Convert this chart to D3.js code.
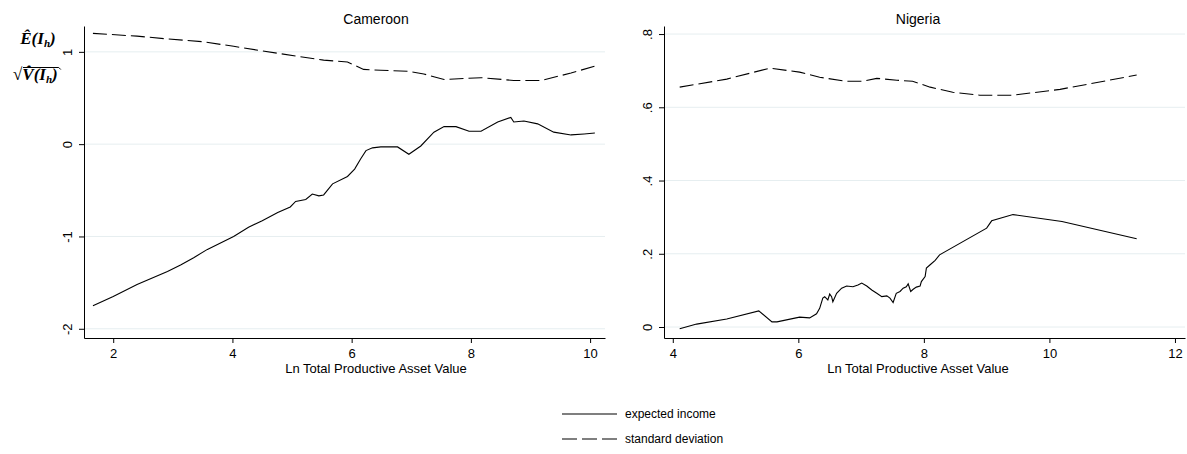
<!DOCTYPE html>
<html lang="en">
<head>
<meta charset="UTF-8">
<title>Expected income and standard deviation</title>
<script src="https://d3js.org/d3.v7.min.js"></script>
<style>
  body { margin: 0; background: #fff; }
  svg { font-family: "Liberation Sans", Arial, sans-serif; }
  .grid line { stroke: #e6eef0; stroke-width: 1; }
  .axis path, .axis line { stroke: #000; stroke-width: 1; }
  .axis text { font-size: 13px; fill: #000; }
</style>
</head>
<body>
<svg width="1187" height="454"></svg>
<script>
// Cameroon
var camIncX = [1.66, 2.0, 2.4, 2.91, 3.13, 3.35, 3.58, 4.02, 4.27, 4.5, 4.76, 4.97, 5.06, 5.23, 5.34, 5.45, 5.53, 5.68, 5.93, 6.05, 6.15, 6.24, 6.35, 6.49, 6.77, 6.96, 7.16, 7.38, 7.55, 7.75, 7.97, 8.17, 8.45, 8.67, 8.72, 8.89, 9.12, 9.39, 9.68, 9.9, 10.08];
var camIncY = [-1.75, -1.65, -1.52, -1.38, -1.31, -1.23, -1.14, -1.0, -0.90, -0.83, -0.74, -0.68, -0.62, -0.60, -0.54, -0.56, -0.55, -0.43, -0.35, -0.27, -0.16, -0.07, -0.04, -0.03, -0.03, -0.11, -0.02, 0.13, 0.19, 0.19, 0.14, 0.14, 0.24, 0.29, 0.24, 0.25, 0.22, 0.13, 0.10, 0.11, 0.12];
var camSdX = [1.66, 2.4, 2.91, 3.5, 4.02, 4.5, 5.11, 5.53, 5.93, 6.2, 6.49, 6.94, 7.21, 7.55, 8.17, 8.72, 9.18, 9.68, 10.1];
var camSdY = [1.20, 1.17, 1.14, 1.11, 1.06, 1.01, 0.95, 0.91, 0.89, 0.81, 0.80, 0.79, 0.76, 0.70, 0.72, 0.69, 0.69, 0.77, 0.85];

// Nigeria
var nigIncX = [4.11, 4.38, 4.86, 5.37, 5.58, 5.66, 6.02, 6.18, 6.29, 6.34, 6.39, 6.42, 6.47, 6.50, 6.53, 6.55, 6.61, 6.69, 6.77, 6.87, 6.95, 7.01, 7.09, 7.17, 7.25, 7.33, 7.41, 7.46, 7.51, 7.56, 7.62, 7.67, 7.72, 7.75, 7.79, 7.83, 7.88, 7.94, 7.96, 8.02, 8.04, 8.10, 8.18, 8.25, 9.0, 9.08, 9.42, 10.2, 11.39];
var nigIncY = [-0.005, 0.008, 0.022, 0.044, 0.014, 0.014, 0.027, 0.025, 0.036, 0.051, 0.079, 0.083, 0.074, 0.090, 0.083, 0.069, 0.092, 0.106, 0.112, 0.110, 0.115, 0.120, 0.112, 0.101, 0.092, 0.083, 0.085, 0.079, 0.067, 0.092, 0.097, 0.106, 0.110, 0.118, 0.097, 0.103, 0.109, 0.112, 0.124, 0.138, 0.161, 0.170, 0.182, 0.197, 0.270, 0.290, 0.307, 0.288, 0.241];
var nigSdX = [4.11, 4.86, 5.55, 6.02, 6.34, 6.77, 7.03, 7.25, 7.57, 7.82, 8.1, 8.46, 8.89, 9.42, 10.17, 11.39];
var nigSdY = [0.655, 0.677, 0.707, 0.696, 0.682, 0.671, 0.671, 0.679, 0.674, 0.671, 0.655, 0.641, 0.633, 0.633, 0.649, 0.688];

var camXTicks = [2, 4, 6, 8, 10];
var camYTicks = [-2, -1, 0, 1];
var nigXTicks = [4, 6, 8, 10, 12];
var nigYTicks = [0, 0.2, 0.4, 0.6, 0.8];

var legendLabels = ['expected income', 'standard deviation'];
var xTitle = 'Ln Total Productive Asset Value';

var svg = d3.select('svg');
var dash = '14,5';

function zip(xs, ys) { return xs.map((x, i) => [x, ys[i]]); }

function panel(opt) {
    var x = d3.scaleLinear().domain(opt.xDomain).range([opt.left, opt.right]);
    var y = d3.scaleLinear().domain(opt.yDomain).range([338, 26]);
    var g = svg.append('g');

    g.append('g').attr('class', 'grid')
        .selectAll('line').data(opt.yTicks).enter().append('line')
        .attr('x1', opt.left).attr('x2', opt.right)
        .attr('y1', d => y(d)).attr('y2', d => y(d));

    var line = d3.line().x(d => x(d[0])).y(d => y(d[1]));
    g.append('path').datum(zip(opt.sdX, opt.sdY))
        .attr('d', line).attr('fill', 'none').attr('stroke', '#000')
        .attr('stroke-width', 1.1).attr('stroke-dasharray', dash);
    g.append('path').datum(zip(opt.incX, opt.incY))
        .attr('d', line).attr('fill', 'none').attr('stroke', '#000')
        .attr('stroke-width', 1.1);

    g.append('g').attr('class', 'axis')
        .attr('transform', 'translate(0,338)')
        .call(d3.axisBottom(x).tickValues(opt.xTicks).tickSize(5).tickSizeOuter(0).tickFormat(d => String(d)))
        .selectAll('text').attr('dy', '0.95em');

    g.append('g').attr('class', 'axis')
        .attr('transform', 'translate(' + opt.left + ',0)')
        .call(d3.axisLeft(y).tickValues(opt.yTicks).tickSize(5).tickSizeOuter(0).tickFormat(opt.yFormat))
        .selectAll('text')
        .attr('x', 0).attr('dy', 0)
        .attr('text-anchor', 'middle')
        .attr('transform', 'translate(-12,0) rotate(-90)');

    g.append('text').attr('x', opt.titleX).attr('y', 24)
        .attr('text-anchor', 'middle').attr('font-size', 14).text(opt.title);
    g.append('text').attr('x', opt.titleX).attr('y', 373)
        .attr('text-anchor', 'middle').attr('font-size', 13).text(xTitle);
}

panel({
    title: 'Cameroon', titleX: 376,
    left: 84, right: 605, xDomain: [1.51, 10.25], yDomain: [-2.1, 1.28],
    xTicks: camXTicks, yTicks: camYTicks, yFormat: d => String(d),
    incX: camIncX, incY: camIncY, sdX: camSdX, sdY: camSdY
});

panel({
    title: 'Nigeria', titleX: 918,
    left: 664, right: 1185, xDomain: [3.86, 12.16], yDomain: [-0.03, 0.822],
    xTicks: nigXTicks, yTicks: nigYTicks,
    yFormat: d => d === 0 ? '0' : String(d).replace('0.', '.'),
    incX: nigIncX, incY: nigIncY, sdX: nigSdX, sdY: nigSdY
});

// y axis label (two stacked expressions)
var lab = svg.append('g')
    .attr('font-family', '"Liberation Serif", "Times New Roman", serif')
    .attr('font-style', 'italic').attr('font-weight', 'bold').attr('font-size', 17);
var t1 = lab.append('text').attr('x', 38).attr('y', 44).attr('text-anchor', 'middle');
t1.append('tspan').text('\u00CA(I');
t1.append('tspan').attr('font-size', 11).attr('dy', 3).text('h');
t1.append('tspan').attr('dy', -3).text(')');

var t2 = lab.append('text').attr('x', 13).attr('y', 80);
t2.append('tspan').attr('font-style', 'normal').attr('font-weight', 'normal').text('\u221A');
t2.append('tspan').text('V\u0302(I');
t2.append('tspan').attr('font-size', 11).attr('dy', 3).text('h');
t2.append('tspan').attr('dy', -3).text(')');
var bb = t2.node().getBBox();
lab.append('path')
    .attr('d', 'M' + (bb.x + 10) + ',' + (bb.y + 2.5) + 'H' + (bb.x + bb.width + 1) + 'l2,2')
    .attr('stroke', '#000').attr('stroke-width', 1).attr('fill', 'none');

// legend
var leg = svg.append('g');
leg.selectAll('line').data(legendLabels).enter().append('line')
    .attr('x1', 562).attr('x2', 617)
    .attr('y1', (d, i) => 414 + i * 25).attr('y2', (d, i) => 414 + i * 25)
    .attr('stroke', '#000').attr('stroke-width', 1.1)
    .attr('stroke-dasharray', (d, i) => i ? '15,5' : null);
leg.selectAll('text').data(legendLabels).enter().append('text')
    .attr('x', 625).attr('y', (d, i) => 418 + i * 25)
    .attr('font-size', 12).text(d => d);
</script>
</body>
</html>
